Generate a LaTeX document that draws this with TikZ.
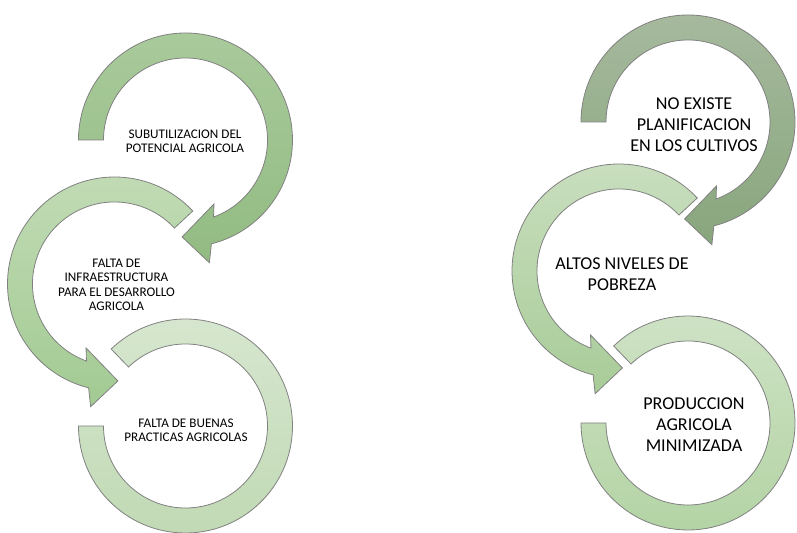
\documentclass[tikz,border=0pt]{standalone}
\usepackage{fontspec}
\setmainfont{Carlito}
\usepackage{xcolor}
\usepackage{tikz}
\usetikzlibrary{positioning}

\definecolor{loneTop}{HTML}{A9CA9B}
\definecolor{loneBot}{HTML}{92BB82}
\definecolor{ltwoTop}{HTML}{C2DCB6}
\definecolor{ltwoBot}{HTML}{A2CA92}
\definecolor{lthreeTop}{HTML}{D7E7D0}
\definecolor{lthreeBot}{HTML}{C0D9B3}
\definecolor{roneTop}{HTML}{A6B99D}
\definecolor{roneBot}{HTML}{88A67D}
\definecolor{rtwoTop}{HTML}{CADFC0}
\definecolor{rtwoBot}{HTML}{A8CC98}
\definecolor{rthreeTop}{HTML}{CFE3C6}
\definecolor{rthreeBot}{HTML}{B2D3A3}

\begin{document}
\begin{tikzpicture}[
    x=0.02cm,y=0.02cm,
    ring/.style={draw=black!50,line width=0.45pt},
    smalltext/.style={align=center,inner sep=1pt,font=\fontsize{7.5}{8.2}\selectfont},
    bigtext/.style={align=center,inner sep=1pt,font=\fontsize{10.3}{12}\selectfont},
    cwhead/.pic={\path[pic actions] (180:82) -- (180:107) arc[start angle=180,end angle=-76,radius=107]
        -- (-79:125) -- (-92:97) -- (-66:70) -- (-70:82) arc[start angle=-70,end angle=180,radius=82] -- cycle;},
    ccwhead/.pic={\path[pic actions] (43:82) -- (43:107) arc[start angle=43,end angle=256,radius=107]
        -- (259:125) -- (272:97) -- (246:70) -- (250:82) arc[start angle=250,end angle=43,radius=82] -- cycle;},
    cwtail/.pic={\path[pic actions] (134:82) -- (134:107) arc[start angle=134,end angle=-180,radius=107]
        -- (-180:82) arc[start angle=-180,end angle=134,radius=82] -- cycle;}
]
\useasboundingbox (0,0) rectangle (797,533);
% ring centres
\coordinate (l1) at (185.5,393);
\coordinate (l2) at (114.5,249);
\coordinate (l3) at (185.5,107);
\coordinate (r1) at (688,411);
\coordinate (r2) at (619,262);
\coordinate (r3) at (688,110);
% left column
\pic[ring,top color=lthreeTop,bottom color=lthreeBot] at (l3) {cwtail};
\pic[ring,top color=ltwoTop,bottom color=ltwoBot] at (l2) {ccwhead};
\pic[ring,top color=loneTop,bottom color=loneBot] at (l1) {cwhead};
% right column
\pic[ring,top color=rthreeTop,bottom color=rthreeBot] at (r3) {cwtail};
\pic[ring,top color=rtwoTop,bottom color=rtwoBot] at (r2) {ccwhead};
\pic[ring,top color=roneTop,bottom color=roneBot] at (r1) {cwhead};
% labels
\node[smalltext] (subutil) at (185,392) {SUBUTILIZACION DEL\\POTENCIAL AGRICOLA};
\node[smalltext] (infra) at (116.5,248) {FALTA DE\\INFRAESTRUCTURA\\PARA EL DESARROLLO\\AGRICOLA};
\node[smalltext] (buenas) at (186,103) {FALTA DE BUENAS\\PRACTICAS AGRICOLAS};
\node[bigtext] (planif) at (694,408) {NO EXISTE\\PLANIFICACION\\EN LOS CULTIVOS};
\node[bigtext] (pobreza) at (622,259) {ALTOS NIVELES DE\\POBREZA};
\node[bigtext] (produc) at (694,108) {PRODUCCION\\AGRICOLA\\MINIMIZADA};
\end{tikzpicture}
\end{document}
